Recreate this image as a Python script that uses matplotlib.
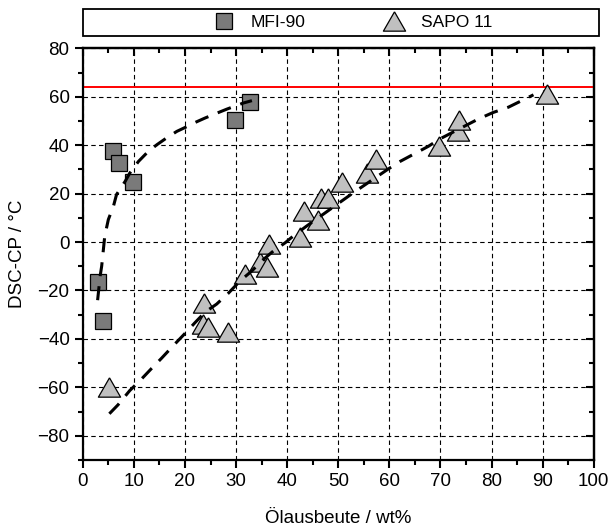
import matplotlib
matplotlib.use('Agg')
import matplotlib.pyplot as plt
from matplotlib.patches import Rectangle
from matplotlib.ticker import MultipleLocator

plt.rcParams['font.family'] = ['Liberation Sans', 'DejaVu Sans']

# MFI-90 Messpunkte
mfi_x = [3.0, 3.9, 5.9, 7.1, 9.9, 29.8, 32.8]
mfi_y = [-16.3, -32.5, 37.7, 32.7, 24.7, 50.4, 57.9]

# SAPO 11 Messpunkte
sapo_x = [5.2, 23.8, 23.6, 24.6, 28.4, 31.7, 34.7, 36.1, 36.4, 42.5, 43.2,
          46.1, 46.7, 48.0, 50.7, 55.6, 57.4, 69.8, 73.4, 73.6, 90.9]
sapo_y = [-60.0, -25.2, -33.7, -35.1, -37.2, -13.2, -8.1, -10.3, -0.8, 2.2, 12.9,
          9.3, 18.3, 18.3, 24.6, 28.7, 34.2, 39.5, 45.7, 50.6, 61.0]

# Trendlinien
mfi_fit_x = [2.9, 3.4, 3.7, 4.3, 5.0, 6.0, 6.6, 8.3, 9.2, 10.9, 12.8, 14.5,
             16.4, 18.4, 20.0, 22.0, 23.9, 26.2, 28.2, 31.4, 33.1]
mfi_fit_y = [-24.0, -14.0, -9.9, 2.5, 9.3, 14.8, 19.6, 25.1, 28.5, 33.3, 37.4, 40.2,
             43.0, 45.7, 47.3, 49.4, 51.2, 53.2, 54.9, 57.4, 58.4]

sapo_fit_x = [5.2, 6.9, 9.2, 11.2, 13.5, 15.4, 17.7, 19.7, 22.0, 23.9, 26.2, 28.5,
              30.8, 33.1, 35.0, 37.3, 39.6, 41.2, 43.8, 45.8, 52.9, 59.8, 62.1,
              67.6, 69.9, 77.4, 80.3, 83.3, 85.9, 88.2]
sapo_fit_y = [-70.9, -67.2, -61.3, -57.2, -52.1, -48.0, -42.8, -38.4, -33.2, -29.0,
              -25.6, -21.1, -16.0, -11.9, -7.8, -3.7, -0.3, 2.5, 6.6, 9.6, 20.3,
              30.2, 33.3, 39.5, 42.6, 50.8, 53.5, 55.7, 58.4, 60.8]

cp_limit = 64

# etwas breiteres Dreieck wie im Original
tri = [(0, 1), (-1.15, -1), (1.15, -1), (0, 1)]

fig = plt.figure(figsize=(6.11, 5.27), dpi=100)
ax = fig.add_axes([0.1355, 0.1271, 0.8363, 0.7812])

ax.set_xlim(0, 100)
ax.set_ylim(-90, 80)

ax.grid(True, which='major', color='black', linestyle=(0, (4, 3)), linewidth=0.8, zorder=1)
ax.axhline(cp_limit, color='red', linewidth=1.4, zorder=2)

ax.plot(mfi_fit_x, mfi_fit_y, color='black', linewidth=2.2, dashes=(4.6, 3.3), zorder=4)
ax.plot(sapo_fit_x, sapo_fit_y, color='black', linewidth=2.2, dashes=(4.6, 3.3), zorder=4)

ax.plot(mfi_x, mfi_y, linestyle='none', marker='s', ms=12, markerfacecolor='#7a7a7a',
        markeredgecolor='black', markeredgewidth=0.9, label='MFI-90', zorder=3)
ax.plot(sapo_x, sapo_y, linestyle='none', marker=tri, ms=16, markerfacecolor='#c0c0c0',
        markeredgecolor='black', markeredgewidth=0.9, label='SAPO 11', zorder=3)

ax.xaxis.set_major_locator(MultipleLocator(10))
ax.xaxis.set_minor_locator(MultipleLocator(5))
ax.yaxis.set_major_locator(MultipleLocator(20))
ax.yaxis.set_minor_locator(MultipleLocator(10))
ax.set_yticks(range(-80, 81, 20))

ax.tick_params(which='both', direction='out', width=1.5, labelsize=13.5,
               top=False, right=False)
ax.tick_params(which='major', length=6)
ax.tick_params(which='minor', length=3.5)

# innere Ticks oben/rechts
ax_top = ax.secondary_xaxis('top')
ax_top.xaxis.set_major_locator(MultipleLocator(10))
ax_top.xaxis.set_minor_locator(MultipleLocator(5))
ax_top.tick_params(which='both', direction='in', width=1.5, labeltop=False)
ax_top.tick_params(which='major', length=6)
ax_top.tick_params(which='minor', length=3.5)
ax_right = ax.secondary_yaxis('right')
ax_right.yaxis.set_major_locator(MultipleLocator(20))
ax_right.yaxis.set_minor_locator(MultipleLocator(10))
ax_right.tick_params(which='both', direction='in', width=1.5, labelright=False)
ax_right.tick_params(which='major', length=6)
ax_right.tick_params(which='minor', length=3.5)
for s in list(ax.spines.values()) + [ax_top.spines['top'], ax_right.spines['right']]:
    s.set_linewidth(1.6)

ax.set_xlabel('Ölausbeute / wt%', fontsize=13.5, labelpad=14)
ax.set_ylabel('DSC-CP / °C', fontsize=13.5, labelpad=8)

# Legendenrahmen
fig.patches.append(Rectangle((82.7 / 611, 1 - 36 / 527), (599 - 82.7) / 611, 27 / 527,
                             transform=fig.transFigure, facecolor='white',
                             edgecolor='black', linewidth=1.3))
fig.legend(loc='center', bbox_to_anchor=(352 / 611, 1 - 22.5 / 527), ncol=2,
           frameon=False, fontsize=12.5, handlelength=1.4, handletextpad=0.85,
           columnspacing=4.4, borderpad=0.1)

fig.savefig('out.png', dpi=100)
